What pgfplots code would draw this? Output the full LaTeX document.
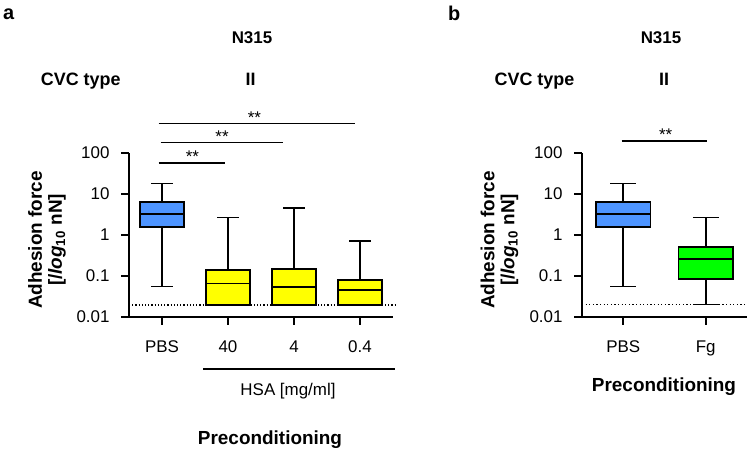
\documentclass[border=0pt]{standalone}
\usepackage{fontspec}
\setmainfont{Liberation Sans}
\usepackage{pgfplots}
\pgfplotsset{compat=1.18}
\definecolor{boxblue}{RGB}{77,148,255}
\definecolor{boxyellow}{RGB}{255,255,0}
\definecolor{boxgreen}{RGB}{0,255,0}
\newcommand{\fs}[1]{\fontsize{#1}{#1}\selectfont}
% box: #1 centre, #2 half box width, #3 half cap width, #4 lower whisker,
%      #5 lower quartile, #6 median, #7 upper quartile, #8 upper whisker, #9 fill colour
\newcommand{\bplot}[9]{%
  \pgfmathsetmacro\bxL{#1-#2}\pgfmathsetmacro\bxR{#1+#2}%
  \pgfmathsetmacro\cpL{#1-#3}\pgfmathsetmacro\cpR{#1+#3}%
  \addplot[black, line width=1.6bp, mark=none] coordinates {(#1,#7) (#1,#8)};
  \addplot[black, line width=1.6bp, mark=none] coordinates {(\cpL,#8) (\cpR,#8)};
  \addplot[black, line width=1.6bp, mark=none] coordinates {(#1,#5) (#1,#4)};
  \addplot[black, line width=1.6bp, mark=none] coordinates {(\cpL,#4) (\cpR,#4)};
  \addplot[draw=black, fill=#9, line width=1.9bp, mark=none] coordinates {(\bxL,#5) (\bxR,#5) (\bxR,#7) (\bxL,#7)} -- cycle;
  \addplot[black, line width=1.8bp, mark=none] coordinates {(\bxL,#6) (\bxR,#6)};
}
\pgfplotsset{
  every axis/.append style={
    scale only axis, height=164bp,
    ymode=log, ymin=0.01, ymax=100,
    axis x line*=bottom, axis y line*=left,
    axis line style={line width=2bp},
    ytick={0.01,0.1,1,10,100}, yticklabels={0.01,0.1,1,10,100},
    yminorticks=false, tick align=outside, major tick length=8bp,
    tick style={line width=1.8bp, black},
    ticklabel style={font=\fs{17}},
    xticklabel style={yshift=-12bp},
    yticklabel style={xshift=-8bp},
    clip=false}
}
\begin{document}
\begin{tikzpicture}
\useasboundingbox (0,0) rectangle (749bp,-451bp);
% ---------- panel a ----------
\begin{axis}[width=264bp, at={(129bp,-317bp)}, anchor=south west,
  xmin=-0.5, xmax=3.5, xtick={0,1,2,3}, xticklabels={PBS,40,4,0.4}]
\bplot{0}{0.335}{0.165}{0.055}{1.6}{3.2}{6.5}{18}{boxblue}
\bplot{1}{0.335}{0.165}{0.02}{0.02}{0.066}{0.14}{2.7}{boxyellow}
\bplot{2}{0.335}{0.165}{0.02}{0.02}{0.053}{0.15}{4.6}{boxyellow}
\bplot{3}{0.335}{0.165}{0.02}{0.02}{0.046}{0.08}{0.72}{boxyellow}
\addplot[black, line width=1.7bp, dash pattern=on 1.2bp off 2bp, mark=none] coordinates {(-0.5,0.02) (3.56,0.02)};
\addplot[black, line width=1.6bp, mark=none] coordinates {(-0.05,58) (0.96,58)};
\addplot[black, line width=1.6bp, mark=none] coordinates {(-0.02,182) (1.83,182)};
\addplot[black, line width=1.6bp, mark=none] coordinates {(-0.05,530) (2.92,530)};
\node[anchor=base, font=\fs{17}] at (axis cs:0.46,58) {**};
\node[anchor=base, font=\fs{17}] at (axis cs:0.91,182) {**};
\node[anchor=base, font=\fs{17}] at (axis cs:1.40,530) {**};
\end{axis}
% ---------- panel b ----------
\begin{axis}[width=165bp, at={(582bp,-317bp)}, anchor=south west,
  xmin=-0.5, xmax=1.5, xtick={0,1}, xticklabels={PBS,Fg}]
\bplot{0}{0.33}{0.155}{0.055}{1.6}{3.2}{6.5}{18}{boxblue}
\bplot{1}{0.33}{0.155}{0.02}{0.086}{0.26}{0.5}{2.7}{boxgreen}
\addplot[black, line width=1.5bp, dash pattern=on 1.2bp off 2.4bp, mark=none] coordinates {(-0.5,0.02) (1.5,0.02)};
\addplot[black, line width=2bp, mark=none] coordinates {(-0.02,200) (1.02,200)};
\node[anchor=base, font=\fs{17}] at (axis cs:0.515,200) {**};
\end{axis}
% ---------- texts ----------
\node[anchor=base west, font=\fs{20}\bfseries, inner sep=0] at (3bp,-19.5bp) {a};
\node[anchor=base west, font=\fs{20}\bfseries, inner sep=0] at (448bp,-20bp) {b};
\node[anchor=base, font=\fs{17}\bfseries, inner sep=0] at (252bp,-43bp) {N315};
\node[anchor=base, font=\fs{18}\bfseries, inner sep=0] at (80.7bp,-85bp) {CVC type};
\node[anchor=base, font=\fs{18}\bfseries, inner sep=0] at (250.7bp,-85bp) {II};
\node[anchor=base, font=\fs{17}\bfseries, inner sep=0] at (661bp,-43bp) {N315};
\node[anchor=base, font=\fs{18}\bfseries, inner sep=0] at (534.5bp,-85bp) {CVC type};
\node[anchor=base, font=\fs{18}\bfseries, inner sep=0] at (664bp,-85bp) {II};
\node[rotate=90, align=center, font=\fs{19}\bfseries, inner sep=0] at (47bp,-240bp)
  {Adhesion force\\[1bp][/\textit{log}\textsubscript{10} nN]};
\node[rotate=90, align=center, font=\fs{19}\bfseries, inner sep=0] at (499.5bp,-240bp)
  {Adhesion force\\[1bp][/\textit{log}\textsubscript{10} nN]};
\draw[line width=2.2bp] (203bp,-369bp) -- (395bp,-369bp);
\node[anchor=base, font=\fs{17}, inner sep=0] at (288bp,-395bp) {HSA [mg/ml]};
\node[anchor=base, font=\fs{19}\bfseries, inner sep=0] at (270bp,-444bp) {Preconditioning};
\node[anchor=base, font=\fs{19}\bfseries, inner sep=0] at (664bp,-391bp) {Preconditioning};
\end{tikzpicture}
\end{document}
